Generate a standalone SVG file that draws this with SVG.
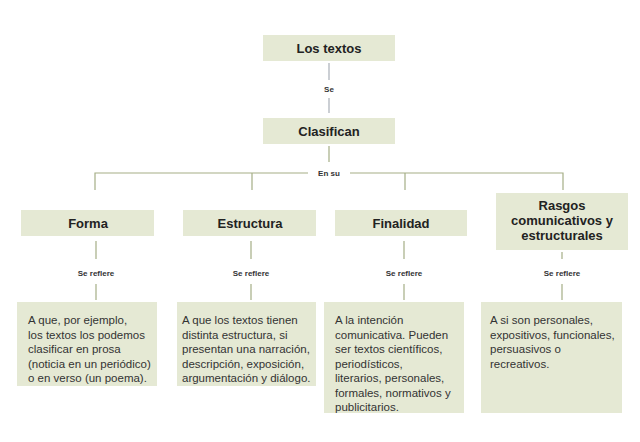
<svg xmlns="http://www.w3.org/2000/svg" width="640" height="442" viewBox="0 0 640 442">
<style>
.b{fill:#e5e9d4}
.t{font-family:"Liberation Sans",Arial,sans-serif;font-weight:bold;font-size:13px;fill:#222;text-anchor:middle}
.l{font-family:"Liberation Sans",Arial,sans-serif;font-weight:bold;font-size:8px;fill:#333;text-anchor:middle}
.p{font-family:"Liberation Sans",Arial,sans-serif;font-size:11.5px;fill:#333}
.c{stroke:#a5ae86;stroke-width:1.2;fill:none}
.g{stroke:#aab0b8;stroke-width:1.2;fill:none}
</style>
<rect width="640" height="442" fill="#fff"/>
<g id="connectors">
<path class="g" d="M329 63V80M329 98V113"/>
<path class="c" d="M329 146V162M95 190V173H308M350 173H563V190M252 173V190M405 173V190"/>
<path class="c" d="M96 241V259M96 284V300M251 241V259M251 284V300M404 241V259M404 284V300M562 252V259M562 284V300"/>
</g>
<g id="lbl">
<text class="l" x="329" y="92">Se</text>
<text class="l" x="329" y="176">En su</text>
<text class="l" x="96" y="276">Se reflere</text>
<text class="l" x="251" y="276">Se reflere</text>
<text class="l" x="404" y="276">Se reflere</text>
<text class="l" x="562" y="276">Se reflere</text>
</g>
<g id="n1"><rect class="b" x="263" y="35" width="132" height="26"/><text class="t" x="329" y="53">Los textos</text></g>
<g id="n2"><rect class="b" x="263" y="118" width="132" height="26"/><text class="t" x="329" y="136">Clasifican</text></g>
<g id="n3"><rect class="b" x="21" y="210" width="133" height="26"/><text class="t" x="88" y="228">Forma</text></g>
<g id="n4"><rect class="b" x="183" y="210" width="133" height="26"/><text class="t" x="250" y="228">Estructura</text></g>
<g id="n5"><rect class="b" x="335" y="210" width="132" height="26"/><text class="t" x="401" y="228">Finalidad</text></g>
<g id="n6"><rect class="b" x="496" y="193" width="132" height="57"/><text class="t" x="562" y="210">Rasgos<tspan x="562" dy="15">comunicativos y</tspan><tspan x="562" dy="15">estructurales</tspan></text></g>
<g id="n7"><rect class="b" x="17" y="302" width="140" height="84"/><text class="p" x="28" y="324">A que, por ejemplo,<tspan x="28" dy="14.5">los textos los podemos</tspan><tspan x="28" dy="14.5">clasificar en prosa</tspan><tspan x="28" dy="14.5">(noticia en un periódico)</tspan><tspan x="28" dy="14.5">o en verso (un poema).</tspan></text></g>
<g id="n8"><rect class="b" x="177" y="302" width="139" height="84"/><text class="p" x="182" y="324">A que los textos tienen<tspan x="182" dy="14.5">distinta estructura, si</tspan><tspan x="182" dy="14.5">presentan una narración,</tspan><tspan x="182" dy="14.5">descripción, exposición,</tspan><tspan x="182" dy="14.5">argumentación y diálogo.</tspan></text></g>
<g id="n9"><rect class="b" x="324" y="302" width="140" height="111"/><text class="p" x="335" y="324">A la intención<tspan x="335" dy="14.5">comunicativa. Pueden</tspan><tspan x="335" dy="14.5">ser textos científicos,</tspan><tspan x="335" dy="14.5">periodísticos,</tspan><tspan x="335" dy="14.5">literarios, personales,</tspan><tspan x="335" dy="14.5">formales, normativos y</tspan><tspan x="335" dy="14.5">publicitarios.</tspan></text></g>
<g id="n10"><rect class="b" x="481" y="302" width="141" height="111"/><text class="p" x="490" y="324">A si son personales,<tspan x="490" dy="14.5">expositivos, funcionales,</tspan><tspan x="490" dy="14.5">persuasivos o</tspan><tspan x="490" dy="14.5">recreativos.</tspan></text></g>
</svg>
